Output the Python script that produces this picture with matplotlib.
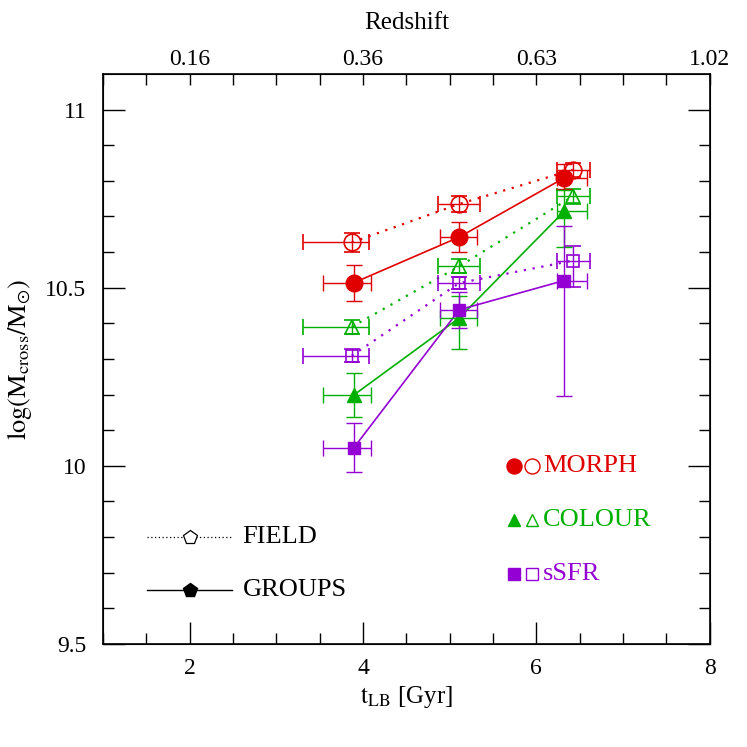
import numpy as np
import matplotlib.pyplot as plt

plt.rcParams['font.family'] = ['Liberation Serif', 'DejaVu Serif']
plt.rcParams['mathtext.fontset'] = 'stix'

# lookback time bins (marker, lower and upper edge of the bin)
t_groups = [3.895, 5.11, 6.32]
t_groups_lo = [3.54, 4.89, 6.24]
t_groups_hi = [4.09, 5.31, 6.585]
t_field = [3.87, 5.11, 6.42]
t_field_lo = [3.305, 4.865, 6.24]
t_field_hi = [4.07, 5.345, 6.62]

# log(M_cross) for each classification
morph_groups = [10.514, 10.642, 10.808]
morph_groups_lo = [0.05, 0.043, 0.03]
morph_groups_hi = [0.05, 0.043, 0.04]
morph_field = [10.627, 10.735, 10.831]
morph_field_err = [0.026, 0.022, 0.02]

colour_groups = [10.199, 10.415, 10.714]
colour_groups_lo = [0.061, 0.087, 0.10]
colour_groups_hi = [0.061, 0.061, 0.06]
colour_field = [10.39, 10.56, 10.756]
colour_field_err = [0.02, 0.02, 0.02]

ssfr_groups = [10.051, 10.438, 10.52]
ssfr_groups_lo = [0.068, 0.05, 0.325]
ssfr_groups_hi = [0.068, 0.05, 0.154]
ssfr_field = [10.309, 10.513, 10.576]
ssfr_field_lo = [0.018, 0.017, 0.075]
ssfr_field_hi = [0.018, 0.017, 0.04]

z_ticks = [2, 4, 6, 8]
z_labels = ['0.16', '0.36', '0.63', '1.02']

red = '#e00000'
green = '#00b000'
purple = '#9400d3'

fig = plt.figure(figsize=(7.47, 7.47), dpi=100)
ax = fig.add_axes([0.138, 0.138, 0.812, 0.763])

tg = np.array(t_groups)
tf = np.array(t_field)
xerr_g = [tg - np.array(t_groups_lo), np.array(t_groups_hi) - tg]
xerr_f = [tf - np.array(t_field_lo), np.array(t_field_hi) - tf]

series = [
    (morph_field, [morph_field_err, morph_field_err], morph_groups, [morph_groups_lo, morph_groups_hi], red, 'o', 12),
    (colour_field, [colour_field_err, colour_field_err], colour_groups, [colour_groups_lo, colour_groups_hi], green, '^', 10),
    (ssfr_field, [ssfr_field_lo, ssfr_field_hi], ssfr_groups, [ssfr_groups_lo, ssfr_groups_hi], purple, 's', 9),
]

for fval, ferr, gval, gerr, col, mk, ms in series:
    # field: open markers, dotted line
    ax.errorbar(tf, fval, xerr=xerr_f, yerr=ferr, fmt=mk, mfc='none', mec=col, ms=ms,
                ecolor=col, elinewidth=1, capsize=6, capthick=1, mew=1.2, zorder=3)
    ax.plot(tf, fval, ls=(0, (1, 3)), color=col, lw=1.6, zorder=2)
    # groups: filled markers, solid line
    ax.errorbar(tg, gval, xerr=xerr_g, yerr=gerr, fmt=mk, mfc=col, mec=col, ms=ms,
                ecolor=col, elinewidth=1, capsize=6, capthick=1, zorder=4)
    ax.plot(tg, gval, ls='-', color=col, lw=1.2, zorder=2)

# legend: environment
ax.plot([1.51, 2.49], [9.80, 9.80], ls=(0, (1, 2)), color='black', lw=0.9)
ax.plot([2.0], [9.80], marker='p', ms=10, mfc='white', mec='black', mew=0.9)
ax.text(2.61, 9.80, 'FIELD', fontsize=19, va='center')
ax.plot([1.51, 2.49], [9.652, 9.652], ls='-', color='black', lw=1)
ax.plot([2.0], [9.652], marker='p', ms=10, mfc='black', mec='black')
ax.text(2.61, 9.652, 'GROUPS', fontsize=19, va='center')

# legend: classification
leg_y = [10.0, 9.848, 9.697]
leg_txt = ['MORPH', 'COLOUR', 'sSFR']
for y, txt, (fval, ferr, gval, gerr, col, mk, ms) in zip(leg_y, leg_txt, series):
    ax.plot([5.74], [y], marker=mk, ms=ms * 0.9, mfc=col, mec=col)
    ax.plot([5.95], [y], marker=mk, ms=ms * 0.9, mfc='none', mec=col, mew=1)
    ax.text(6.08, y, txt, fontsize=19, va='center', color=col)

ax.set_xlim(1, 8)
ax.set_ylim(9.5, 11.1)
ax.set_xticks([2, 4, 6, 8])
ax.set_xticks(np.arange(1, 8.01, 0.5), minor=True)
ax.set_yticks([9.5, 10, 10.5, 11])
ax.set_yticklabels(['9.5', '10', '10.5', '11'])
ax.set_yticks(np.arange(9.5, 11.1, 0.1), minor=True)
ax.tick_params(which='both', direction='in', right=True, top=False, labelsize=17, width=1)
ax.tick_params(which='major', length=16)
ax.tick_params(which='minor', length=8)
ax.tick_params(axis='x', pad=10)
ax.tick_params(axis='y', pad=12)
ax.set_xlabel(r'$\mathrm{t_{LB}}$ [Gyr]', fontsize=18)
ax.set_ylabel(r'$\log(\mathrm{M_{cross}/M_{\odot}})$', fontsize=19, labelpad=8)
for s in ax.spines.values():
    s.set_linewidth(1.2)

ax2 = ax.twiny()
ax2.set_xlim(ax.get_xlim())
ax2.set_xticks(z_ticks)
ax2.set_xticklabels(z_labels)
ax2.set_xticks(np.arange(1, 8.01, 0.5), minor=True)
ax2.tick_params(which='both', direction='in', labelsize=17, length=8, width=1, pad=3)
ax2.set_xlabel('Redshift', fontsize=18, labelpad=14)

fig.savefig('out.png', dpi=100)
